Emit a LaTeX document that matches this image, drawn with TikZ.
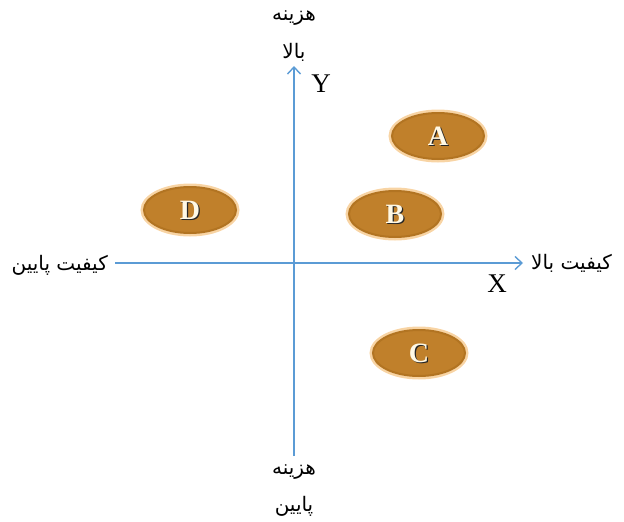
\documentclass[tikz,border=0pt]{standalone}
\usepackage{fontspec}
\usetikzlibrary{arrows.meta,shapes.geometric}
\newfontfamily\arabicfont[Script=Arabic]{DejaVu Sans}
\setmainfont{Liberation Serif}
\TeXXeTstate=1
\definecolor{axisblue}{HTML}{5B9BD5}
\definecolor{bronze}{HTML}{C0802B}
\definecolor{bronzedark}{HTML}{B27422}
\definecolor{peach}{HTML}{F8D4A4}
\definecolor{cream}{HTML}{FFF9E6}
\tikzset{
  axis/.style={draw=axisblue, line width=1.4pt, -{Straight Barb[length=7pt,width=13pt]}},
  fa/.style={font=\arabicfont\fontsize{20}{24}\selectfont, inner sep=0pt},
  axlab/.style={font=\fontsize{27}{29}\selectfont, inner sep=0pt},
  oval/.style={ellipse, fill=bronze, draw=peach, line width=3pt,
    minimum width=96pt, minimum height=50pt, inner sep=0pt},
  ovring/.style={ellipse, draw=bronzedark, line width=2pt,
    minimum width=92pt, minimum height=46pt, inner sep=0pt},
  lett/.style={font=\fontsize{28}{30}\selectfont\bfseries, text=cream, inner sep=0pt},
  lettsh/.style={font=\fontsize{28}{30}\selectfont\bfseries, text=black!85, inner sep=0pt},
}
\begin{document}
\begin{tikzpicture}[x=1pt,y=-1pt]
\useasboundingbox (0,0) rectangle (624,522);
\coordinate (xl) at (115,263);
\coordinate (xr) at (523,263);
\coordinate (yb) at (294,456);
\coordinate (yt) at (294,66);
\draw[axis] (xl) -- (xr);
\draw[axis] (yb) -- (yt);
\node[axlab] (Y) at (321,84) {Y};
\node[axlab] (X) at (497,284) {X};
\node[fa] (t1) at (294,18) {\beginR هزینه\endR};
\node[fa] (t2) at (294,52) {\beginR بالا\endR};
\node[fa] (b1) at (294,472) {\beginR هزینه\endR};
\node[fa] (b2) at (294,506) {\beginR پایین\endR};
\node[fa,anchor=east] (l) at (108,265) {\beginR کیفیت پایین\endR};
\node[fa,anchor=west] (r) at (531,263) {\beginR کیفیت بالا\endR};
\foreach \n/\x/\y in {A/438/136, D/190/210, B/395/214, C/419/353}{
  \node[oval] (\n) at (\x,\y) {};
  \node[ovring] (\n r) at (\x,\y) {};
  \node[lettsh] (\n s) at (\x+1.2,\y+1.2) {\n};
  \node[lett] (\n t) at (\x,\y) {\n};
}
\end{tikzpicture}
\end{document}
